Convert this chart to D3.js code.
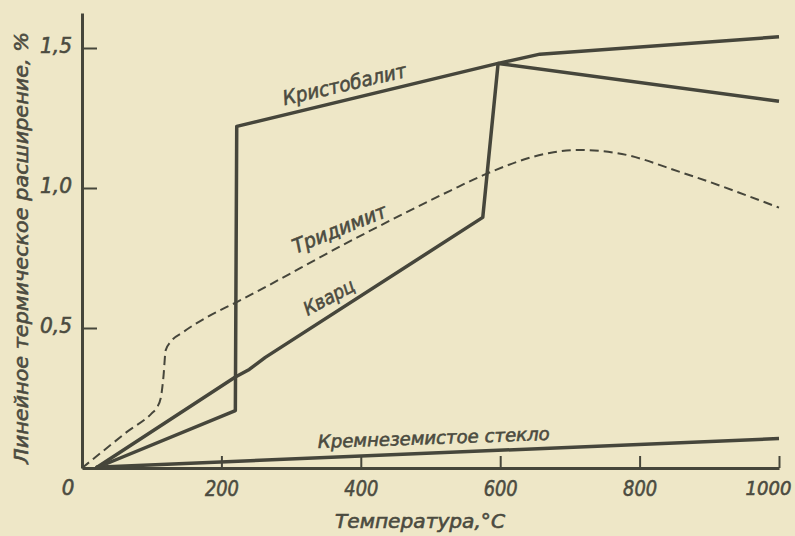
<!DOCTYPE html>
<html><head><meta charset="utf-8">
<script src="https://cdn.jsdelivr.net/npm/d3@7/dist/d3.min.js"></script>
<style>
html,body{margin:0;padding:0;background:#eee7c7;}
svg{display:block;}
text{font-family:"DejaVu Sans Condensed","Liberation Sans Narrow",sans-serif;font-stretch:condensed;font-style:italic;fill:#4b4b40;stroke:#4b4b40;stroke-width:0.55px;}
</style></head>
<body>
<svg id="c" width="795" height="536"></svg>
<script>
// Data (temperature °C, linear expansion %)
const xTicks = [200, 400, 600, 800, 1000];
const yTicks = [0.5, 1.0, 1.5];
const yTickLabels = ["0,5", "1,0", "1,5"];

const cristobaliteT = [20, 220, 222, 597, 657, 1000];
const cristobaliteV = [0, 0.205, 1.22, 1.445, 1.478, 1.54];

const quartzT = [20, 220, 240, 263, 575, 597, 1000];
const quartzV = [0, 0.325, 0.352, 0.395, 0.895, 1.445, 1.31];

const tridymiteT = [0, 30, 64, 100, 107, 113, 117, 120, 127, 145, 180, 220, 400, 528, 575, 671, 710, 767, 862, 1000];
const tridymiteV = [0, 0.06, 0.128, 0.195, 0.214, 0.25, 0.33, 0.42, 0.45, 0.485, 0.54, 0.59, 0.83, 0.99, 1.045, 1.125, 1.136, 1.125, 1.054, 0.93];

const glassT = [20, 1000];
const glassV = [0.003, 0.105];

const ink = "#46463b";
const svg = d3.select("#c");
const x = d3.scaleLinear([0, 1000], [82, 779]);
const y = d3.scaleLinear([0, 1.625], [468, 13]);

const zip = (a, b) => a.map((t, i) => [t, b[i]]);

// axes
const xAxis = d3.axisBottom(x).tickValues(xTicks).tickSize(-12).tickSizeOuter(0).tickPadding(20).tickFormat(d3.format("d"));
const gx = svg.append("g").attr("transform", `translate(0,${y(0)})`).call(xAxis);
gx.select(".domain").attr("stroke", ink).attr("stroke-width", 3);
gx.selectAll(".tick line").attr("stroke", ink).attr("stroke-width", 2);
gx.selectAll(".tick text").attr("font-size", d => d === 1000 ? 20 : 22).attr("fill", null).attr("font-family", null).attr("dy", "0.35em")
  .attr("dx", d => d === 1000 ? -11 : 0);
gx.selectAll(".tick text").filter(d => d !== 1000).attr("textLength", 34).attr("lengthAdjust", "spacingAndGlyphs");

const yAxis = d3.axisLeft(y).tickValues(yTicks).tickSize(-15).tickSizeOuter(0).tickPadding(10).tickFormat((d, i) => yTickLabels[i]);
const gy = svg.append("g").attr("transform", `translate(${x(0)},0)`).call(yAxis);
gy.select(".domain").attr("stroke", ink).attr("stroke-width", 3);
gy.selectAll(".tick line").attr("stroke", ink).attr("stroke-width", 2);
gy.selectAll(".tick text").attr("font-size", 22).attr("fill", null).attr("font-family", null).attr("dy", "0.2em")
  .attr("textLength", 32).attr("lengthAdjust", "spacingAndGlyphs");

// origin label
svg.append("text").attr("x", x(0) - 14).attr("y", y(0) + 27).attr("text-anchor", "middle").attr("font-size", 22).text("0");

// axis titles
svg.append("text").attr("x", 420).attr("y", 528).attr("text-anchor", "middle").attr("font-size", 20).attr("textLength", 170).attr("lengthAdjust", "spacingAndGlyphs").text("Температура,°C");
svg.append("text").attr("transform", "translate(28,248) rotate(-90)").attr("text-anchor", "middle").attr("font-size", 19).attr("textLength", 432).attr("lengthAdjust", "spacingAndGlyphs").text("Линейное термическое расширение, %");

// lines
const lineLin = d3.line().x(d => x(d[0])).y(d => y(d[1]));
const lineSmooth = d3.line().x(d => x(d[0])).y(d => y(d[1])).curve(d3.curveMonotoneX);

svg.append("path").datum(zip(glassT, glassV)).attr("d", lineLin).attr("fill", "none").attr("stroke", ink).attr("stroke-width", 3.5);
svg.append("path").datum(zip(quartzT, quartzV)).attr("d", lineLin).attr("fill", "none").attr("stroke", ink).attr("stroke-width", 3.5).attr("stroke-linejoin", "round");
svg.append("path").datum(zip(cristobaliteT, cristobaliteV)).attr("d", lineLin).attr("fill", "none").attr("stroke", ink).attr("stroke-width", 3.5).attr("stroke-linejoin", "round");
svg.append("path").datum(zip(tridymiteT, tridymiteV)).attr("d", lineSmooth).attr("fill", "none").attr("stroke", ink).attr("stroke-width", 2).attr("stroke-dasharray", "9,5");

// series labels
const lab = (t, cx, cy, ang, fs, len) => {
  const el = svg.append("text").attr("transform", `translate(${cx},${cy}) rotate(${ang})`).attr("text-anchor", "middle").attr("font-size", fs).text(t);
  if (len) el.attr("textLength", len).attr("lengthAdjust", "spacingAndGlyphs");
};
lab("Кристобалит", 346, 91, -13, 20, 126);
lab("Тридимит", 342, 235, -22, 20, 100);
lab("Кварц", 332, 303, -28, 19, 0);
lab("Кремнеземистое  стекло", 434, 444, -2, 18, 232);
</script>
</body></html>
